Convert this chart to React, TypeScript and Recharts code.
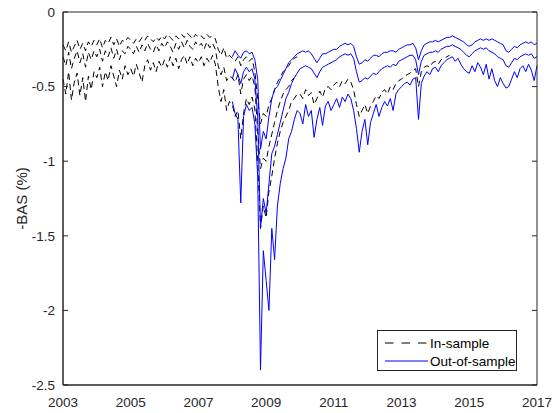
import { LineChart, Line, XAxis, YAxis, Legend } from "recharts";

const FONT = '"Liberation Sans", Arial, Helvetica, sans-serif';
const AXIS = "#262626";

// monthly series, first value is January of the start year
const inSampleStart = 2003;
const outSampleStart = 2008;

const yearTicks = [2003, 2005, 2007, 2009, 2011, 2013, 2015, 2017];
const basTicks = [-2.5, -2, -1.5, -1, -0.5, 0];
const yearDomain = [2003, 2017];
const basDomain = [-2.5, 0];

const inTop = [
  -0.22, -0.26, -0.2, -0.27, -0.23, -0.19, -0.25, -0.21, -0.26, -0.2, -0.23, -0.19,
  -0.22, -0.18, -0.24, -0.19, -0.21, -0.17, -0.22, -0.18, -0.23, -0.19, -0.2, -0.17,
  -0.19, -0.21, -0.18, -0.2, -0.17, -0.19, -0.16, -0.18, -0.2, -0.17, -0.19, -0.16,
  -0.18, -0.15, -0.17, -0.19, -0.16, -0.18, -0.15, -0.17, -0.14, -0.16, -0.18, -0.15,
  -0.17, -0.16, -0.18, -0.15, -0.17, -0.16, -0.18, -0.25, -0.29, -0.24, -0.31, -0.29,
  -0.31, -0.33, -0.3, -0.36, -0.32, -0.3, -0.33, -0.31, -0.4, -0.58, -0.75, -0.68,
  -0.7, -0.62, -0.58, -0.52, -0.47, -0.44, -0.4, -0.38, -0.36, -0.33, -0.31, -0.3,
];

const inMid = [
  -0.3, -0.36, -0.27, -0.38, -0.31, -0.26, -0.34, -0.28, -0.37, -0.27, -0.32, -0.26,
  -0.3, -0.25, -0.33, -0.26, -0.3, -0.24, -0.31, -0.25, -0.32, -0.26, -0.28, -0.23,
  -0.25, -0.28, -0.23, -0.27, -0.22, -0.26, -0.21, -0.25, -0.27, -0.22, -0.26, -0.21,
  -0.24, -0.2, -0.23, -0.27, -0.21, -0.25, -0.2, -0.24, -0.19, -0.23, -0.25, -0.2,
  -0.23, -0.21, -0.25, -0.2, -0.24, -0.21, -0.25, -0.36, -0.42, -0.37, -0.46, -0.43,
  -0.44, -0.47, -0.42, -0.55, -0.45, -0.42, -0.46, -0.43, -0.5, -0.8, -1.05, -0.98,
  -1.0, -0.9, -0.82, -0.74, -0.66, -0.6, -0.55, -0.52, -0.5, -0.46, -0.44, -0.42,
];

const inLow = [
  -0.45, -0.55, -0.4, -0.59, -0.47, -0.41, -0.56, -0.44, -0.6, -0.43, -0.52, -0.4,
  -0.44, -0.37, -0.5, -0.4, -0.46, -0.36, -0.43, -0.5, -0.39, -0.45, -0.36, -0.42,
  -0.38, -0.43, -0.35, -0.41, -0.47, -0.36, -0.32, -0.39, -0.34, -0.4, -0.33, -0.37,
  -0.32, -0.37, -0.3, -0.36, -0.31, -0.38, -0.32, -0.29, -0.35, -0.3, -0.36, -0.31,
  -0.34, -0.3, -0.36, -0.31, -0.34, -0.29, -0.35, -0.5, -0.6, -0.52, -0.66, -0.6,
  -0.62, -0.7, -0.66, -0.85, -0.68, -0.58, -0.62, -0.57, -0.65, -1.0, -1.45, -1.3,
  -1.38, -1.2, -1.1, -0.98, -0.88, -0.8, -0.74, -0.7, -0.66, -0.6, -0.58, -0.55,
  -0.55, -0.58, -0.52, -0.56, -0.54, -0.62, -0.58, -0.53, -0.57, -0.51, -0.5, -0.52,
  -0.49, -0.47, -0.5, -0.46, -0.48, -0.45, -0.47, -0.52, -0.62, -0.7, -0.66, -0.62,
  -0.68, -0.63, -0.6, -0.56, -0.58, -0.54, -0.52, -0.55, -0.5, -0.52, -0.48, -0.46,
  -0.45, -0.43, -0.42, -0.41, -0.39, -0.38, -0.5, -0.4, -0.37, -0.36, -0.37, -0.34,
  -0.33, -0.35, -0.32, -0.31, -0.3, -0.29,
];

const outTop = [
  -0.3, -0.26, -0.29, -0.31, -0.27, -0.26, -0.28, -0.27, -0.32, -0.45, -0.92, -0.8,
  -0.85, -0.7, -0.58, -0.52, -0.5, -0.46, -0.42, -0.38, -0.34, -0.32, -0.3, -0.28,
  -0.27, -0.26, -0.27, -0.26, -0.28, -0.31, -0.34, -0.31, -0.28, -0.28, -0.27, -0.26,
  -0.25, -0.25, -0.23, -0.22, -0.21, -0.22, -0.21, -0.23, -0.3, -0.35, -0.34, -0.32,
  -0.33, -0.31, -0.29, -0.29, -0.3, -0.28, -0.27, -0.27, -0.26, -0.26, -0.27, -0.25,
  -0.24, -0.23, -0.22, -0.22, -0.21, -0.24, -0.32, -0.26, -0.22, -0.21, -0.2, -0.2,
  -0.19, -0.2, -0.19, -0.18, -0.17, -0.17, -0.16, -0.17, -0.18, -0.19, -0.2, -0.22,
  -0.23, -0.22, -0.2, -0.19, -0.18, -0.19, -0.18, -0.19, -0.18, -0.19, -0.2, -0.21,
  -0.22, -0.26, -0.27, -0.25, -0.23, -0.24, -0.22, -0.21, -0.2, -0.21, -0.2, -0.22,
  -0.21,
];

const outMid = [
  -0.45, -0.38, -0.42, -0.48, -0.4, -0.37, -0.4, -0.38, -0.45, -0.7, -1.45, -1.25,
  -1.35, -1.15, -0.95, -0.9, -0.82, -0.74, -0.66, -0.58, -0.54, -0.48, -0.44, -0.41,
  -0.38, -0.37, -0.36, -0.37, -0.38, -0.41, -0.44, -0.4, -0.37, -0.36, -0.35, -0.34,
  -0.33, -0.32, -0.3, -0.29, -0.28, -0.29, -0.28, -0.31, -0.4, -0.47, -0.46, -0.44,
  -0.45, -0.43, -0.41, -0.42, -0.4, -0.38, -0.37, -0.36, -0.37, -0.35, -0.36, -0.33,
  -0.32, -0.31, -0.3, -0.29, -0.29, -0.32, -0.42, -0.33, -0.29, -0.28, -0.27, -0.27,
  -0.26, -0.27, -0.25, -0.24, -0.23, -0.23, -0.22, -0.23, -0.24, -0.25, -0.27, -0.29,
  -0.3, -0.28, -0.26, -0.25, -0.24, -0.25, -0.24, -0.26, -0.27, -0.28, -0.3, -0.31,
  -0.32, -0.36, -0.37, -0.34, -0.31, -0.32, -0.3, -0.29, -0.28, -0.29, -0.28, -0.31,
  -0.3,
];

const outLow = [
  -0.6, -0.68, -0.72, -1.28, -0.7, -0.62, -0.66, -0.64, -0.75, -1.1, -2.4, -1.6,
  -1.8, -2.0, -1.45, -1.66, -1.3, -1.15, -1.05, -0.98, -0.85, -0.8, -0.72, -0.66,
  -0.68, -0.75, -0.62, -0.7, -0.66, -0.84, -0.72, -0.64, -0.76, -0.63, -0.6, -0.66,
  -0.62, -0.58, -0.64, -0.57, -0.6, -0.55, -0.58, -0.66, -0.78, -0.94, -0.8, -0.72,
  -0.89, -0.74, -0.68, -0.62, -0.7, -0.64, -0.6, -0.63, -0.58, -0.66, -0.55, -0.52,
  -0.5, -0.48, -0.47, -0.49, -0.45, -0.44, -0.72, -0.48, -0.43, -0.4, -0.42, -0.38,
  -0.37, -0.4, -0.36, -0.34, -0.32, -0.31, -0.3, -0.33, -0.31, -0.35, -0.38, -0.4,
  -0.41, -0.36, -0.4, -0.34, -0.37, -0.42, -0.35, -0.45, -0.38, -0.46, -0.5, -0.44,
  -0.48, -0.51, -0.5, -0.45, -0.4, -0.44, -0.38, -0.36, -0.4, -0.35, -0.39, -0.46,
  -0.36,
];

const monthly = (start: number, values: number[]) =>
  values.map((v, i) => ({ t: start + i / 12, v }));

const inSeries = [inTop, inMid, inLow].map((s) => monthly(inSampleStart, s));
const outSeries = [outTop, outMid, outLow].map((s) => monthly(outSampleStart, s));

function LegendBox({ payload }: any) {
  const seen = new Set<string>();
  const items = (payload ?? []).filter((p: any) => {
    if (seen.has(p.value)) return false;
    seen.add(p.value);
    return true;
  });
  return (
    <div
      style={{
        border: `1px solid ${AXIS}`,
        background: "#fff",
        padding: "3px 0 0 0",
        boxSizing: "border-box",
        width: 140,
        height: 41,
        fontFamily: FONT,
        fontSize: 13.5,
        color: "#000",
      }}
    >
      {items.map((p: any) => (
        <div key={p.value} style={{ display: "flex", alignItems: "center", height: 18 }}>
          <svg width={52} height={10} style={{ display: "block" }}>
            <line
              x1={7}
              x2={50}
              y1={5}
              y2={5}
              stroke={p.color}
              strokeDasharray={p.payload?.strokeDasharray ? "8.5 8" : undefined}
            />
          </svg>
          <span style={{ whiteSpace: "nowrap" }}>{p.value}</span>
        </div>
      ))}
    </div>
  );
}

const tickStyle = { fill: AXIS, fontSize: 13.5, fontFamily: FONT };
const noLabel = () => <g />;

export default function App() {
  return (
    <div style={{ position: "absolute", left: 0, top: 0, width: 557, height: 413 }}>
      <LineChart width={557} height={413} margin={{ top: 12, right: 20, left: 0, bottom: 0 }}>
        <XAxis
          dataKey="t"
          type="number"
          domain={yearDomain}
          ticks={yearTicks}
          interval={0}
          height={28}
          stroke={AXIS}
          tick={tickStyle}
          tickLine={false}
          tickSize={0}
          tickMargin={12}
        />
        {/* inward tick marks and the box, like a MATLAB axes */}
        <XAxis
          xAxisId="bottomTicks"
          orientation="bottom"
          mirror
          type="number"
          domain={yearDomain}
          allowDataOverflow
          ticks={yearTicks}
          interval={0}
          stroke={AXIS}
          tick={noLabel}
          tickSize={5}
        />
        <XAxis
          xAxisId="topTicks"
          orientation="top"
          mirror
          type="number"
          domain={yearDomain}
          allowDataOverflow
          ticks={yearTicks}
          interval={0}
          stroke={AXIS}
          tick={noLabel}
          tickSize={5}
        />
        <YAxis
          type="number"
          domain={basDomain}
          ticks={basTicks}
          interval={0}
          width={63}
          stroke={AXIS}
          tick={tickStyle}
          tickLine={false}
          tickSize={0}
          tickMargin={8}
          label={({ viewBox }: any) => {
            const cx = viewBox.x + 27;
            const cy = viewBox.y + viewBox.height / 2;
            return (
              <text
                x={cx}
                y={cy}
                transform={`rotate(-90 ${cx} ${cy})`}
                textAnchor="middle"
                fill={AXIS}
                fontSize={15}
                fontFamily={FONT}
              >
                -BAS (%)
              </text>
            );
          }}
        />
        <YAxis
          yAxisId="leftTicks"
          orientation="left"
          mirror
          type="number"
          domain={basDomain}
          allowDataOverflow
          ticks={basTicks}
          interval={0}
          stroke={AXIS}
          tick={noLabel}
          tickSize={5}
        />
        <YAxis
          yAxisId="rightTicks"
          orientation="right"
          mirror
          type="number"
          domain={basDomain}
          allowDataOverflow
          ticks={basTicks}
          interval={0}
          stroke={AXIS}
          tick={noLabel}
          tickSize={5}
        />
        {inSeries.map((d, i) => (
          <Line
            key={`in-${i}`}
            data={d}
            dataKey="v"
            name="In-sample"
            stroke="#000000"
            strokeWidth={1}
            strokeDasharray="6 4"
            dot={false}
            activeDot={false}
            isAnimationActive={false}
          />
        ))}
        {outSeries.map((d, i) => (
          <Line
            key={`out-${i}`}
            data={d}
            dataKey="v"
            name="Out-of-sample"
            stroke="#0000ff"
            strokeWidth={1}
            dot={false}
            activeDot={false}
            isAnimationActive={false}
          />
        ))}
        <Legend
          layout="vertical"
          align="center"
          verticalAlign="middle"
          content={<LegendBox />}
          wrapperStyle={{ left: 377, top: 330, width: 140, height: 41 }}
        />
      </LineChart>
    </div>
  );
}
